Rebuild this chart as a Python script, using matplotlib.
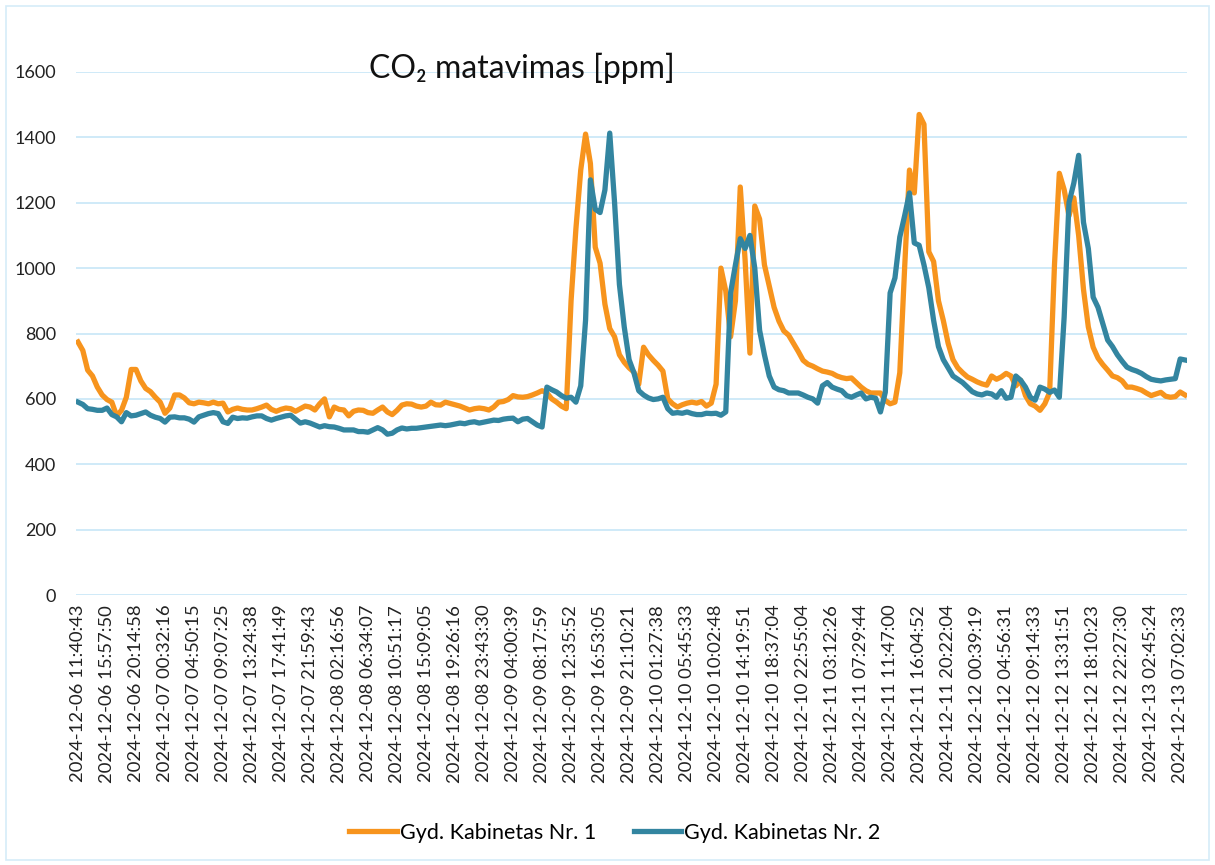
import numpy as np
import matplotlib
matplotlib.use("Agg")
import matplotlib.pyplot as plt
from matplotlib.patches import Rectangle

ORANGE, BLUE, GRID = "#F7941D", "#3385A0", "#CFEAF8"

# category labels shown on the x axis (one every 6 samples)
tick_labels = [
    "2024-12-06 11:40:43", "2024-12-06 15:57:50", "2024-12-06 20:14:58",
    "2024-12-07 00:32:16", "2024-12-07 04:50:15", "2024-12-07 09:07:25",
    "2024-12-07 13:24:38", "2024-12-07 17:41:49", "2024-12-07 21:59:43",
    "2024-12-08 02:16:56", "2024-12-08 06:34:07", "2024-12-08 10:51:17",
    "2024-12-08 15:09:05", "2024-12-08 19:26:16", "2024-12-08 23:43:30",
    "2024-12-09 04:00:39", "2024-12-09 08:17:59", "2024-12-09 12:35:52",
    "2024-12-09 16:53:05", "2024-12-09 21:10:21", "2024-12-10 01:27:38",
    "2024-12-10 05:45:33", "2024-12-10 10:02:48", "2024-12-10 14:19:51",
    "2024-12-10 18:37:04", "2024-12-10 22:55:04", "2024-12-11 03:12:26",
    "2024-12-11 07:29:44", "2024-12-11 11:47:00", "2024-12-11 16:04:52",
    "2024-12-11 20:22:04", "2024-12-12 00:39:19", "2024-12-12 04:56:31",
    "2024-12-12 09:14:33", "2024-12-12 13:31:51", "2024-12-12 18:10:23",
    "2024-12-12 22:27:30", "2024-12-13 02:45:24", "2024-12-13 07:02:33",
]
STEP = 6

# CO2 [ppm]
kab1 = [
    774, 748, 688, 670, 636, 612,
    598, 590, 548, 565, 605, 690,
    690, 655, 632, 622, 605, 590,
    556, 572, 612, 612, 603, 588,
    585, 590, 588, 585, 590, 585,
    587, 560, 568, 572, 568, 566,
    566, 570, 575, 581, 568, 562,
    568, 572, 570, 562, 570, 578,
    575, 566, 585, 600, 545, 575,
    568, 566, 548, 562, 566, 565,
    558, 556, 566, 575, 560, 552,
    565, 581, 585, 584, 578, 575,
    578, 590, 582, 581, 590, 586,
    582, 578, 572, 566, 570, 572,
    570, 566, 575, 590, 592, 598,
    610, 606, 605, 607, 612, 618,
    625, 618, 600, 590, 578, 570,
    900, 1120, 1300, 1410, 1320, 1064,
    1015, 890, 815, 790, 735, 712,
    695, 682, 645, 758, 735, 718,
    703, 685, 600, 585, 575, 582,
    587, 590, 587, 592, 578, 587,
    645, 1000, 930, 790, 900, 1248,
    1025, 740, 1190, 1150, 1010, 945,
    880, 838, 808, 795, 770, 745,
    718, 706, 700, 692, 685, 682,
    678, 670, 665, 662, 664, 650,
    636, 625, 618, 618, 618, 595,
    585, 590, 680, 1000, 1300, 1230,
    1470, 1440, 1050, 1020, 900, 840,
    770, 720, 695, 680, 667, 660,
    652, 646, 642, 670, 660, 667,
    678, 670, 640, 657, 610, 585,
    578, 565, 585, 620, 1010, 1290,
    1240, 1160, 1215, 1100, 935, 820,
    758, 725, 705, 688, 670, 665,
    655, 636, 636, 632, 627, 618,
    610, 615, 620, 608, 605, 607,
    621, 612,
]
kab2 = [
    590, 583, 570, 568, 565, 565,
    572, 552, 545, 530, 558, 548,
    550, 555, 560, 550, 544, 540,
    529, 544, 545, 542, 542, 538,
    529, 545, 550, 555, 558, 555,
    530, 525, 544, 540, 542, 541,
    545, 548, 548, 540, 535, 540,
    544, 548, 550, 538, 526, 530,
    526, 520, 514, 518, 515, 514,
    510, 505, 505, 505, 500, 500,
    498, 505, 512, 505, 492, 495,
    505, 511, 508, 510, 510, 512,
    514, 516, 518, 520, 518, 520,
    523, 526, 524, 528, 530, 526,
    529, 532, 535, 534, 538, 540,
    541, 530, 538, 540, 530, 520,
    514, 636, 628, 621, 610, 602,
    605, 590, 640, 841, 1270, 1180,
    1170, 1239, 1413, 1200, 950, 820,
    720, 680, 625, 612, 603, 598,
    600, 605, 570, 556, 558, 556,
    560, 555, 552, 552, 556, 555,
    556, 550, 560, 924, 1010, 1090,
    1060, 1100, 1000, 810, 735, 670,
    636, 628, 625, 618, 618, 618,
    612, 605, 600, 587, 640, 650,
    636, 630, 625, 610, 605, 612,
    618, 600, 605, 602, 560, 620,
    924, 970, 1095, 1160, 1230, 1077,
    1070, 1010, 940, 840, 760, 720,
    695, 670, 660, 650, 636, 622,
    615, 612, 618, 615, 605, 625,
    602, 605, 670, 657, 636, 605,
    596, 636, 630, 620, 627, 605,
    850, 1200, 1260, 1345, 1140, 1060,
    911, 880, 830, 780, 760, 735,
    715, 697, 690, 685, 678, 668,
    660, 657, 655, 658, 660, 662,
    722, 719,
]
series_names = ["Gyd. Kabinetas Nr. 1", "Gyd. Kabinetas Nr. 2"]

plt.rcParams["font.family"] = ["Lato", "DejaVu Sans"]

fig = plt.figure(figsize=(12.15, 8.65), dpi=100)
ax = fig.add_axes([0.0622, 0.3121, 0.9151, 0.6047])

x = np.arange(len(kab1))
ax.plot(x, kab1, color=ORANGE, lw=3.8, solid_joinstyle="round", label=series_names[0])
ax.plot(x, kab2, color=BLUE, lw=3.8, solid_joinstyle="round", label=series_names[1])

ax.set_xlim(-0.5, len(kab1) - 0.5)
ax.set_ylim(0, 1600)
ax.set_yticks(np.arange(0, 1601, 200))
ax.set_xticks(np.arange(0, len(tick_labels) * STEP, STEP))
ax.set_xticklabels(tick_labels, rotation=90, fontsize=13.3, color="#222222")
ax.tick_params(axis="y", length=0, pad=14, labelsize=13, labelcolor="#222222")
ax.tick_params(axis="x", length=0, pad=7)
ax.grid(axis="y", color=GRID, lw=1.4)
ax.set_axisbelow(True)
for s in ax.spines.values():
    s.set_visible(False)

fig.text(522 / 1215, 1 - 68 / 865, "CO\u2082 matavimas [ppm]", ha="center", va="center",
         fontsize=23, color="#111111")

fig.legend(loc="center", bbox_to_anchor=(615 / 1215, 1 - 833 / 865), ncol=2, frameon=False,
           fontsize=15.5, handlelength=2.2, handletextpad=0.15, columnspacing=1.75)

fig.add_artist(Rectangle((0.005, 0.006), 0.99, 0.987, transform=fig.transFigure,
                         fill=False, ec="#D5ECF8", lw=1.2))

fig.savefig("out.png", dpi=100)
